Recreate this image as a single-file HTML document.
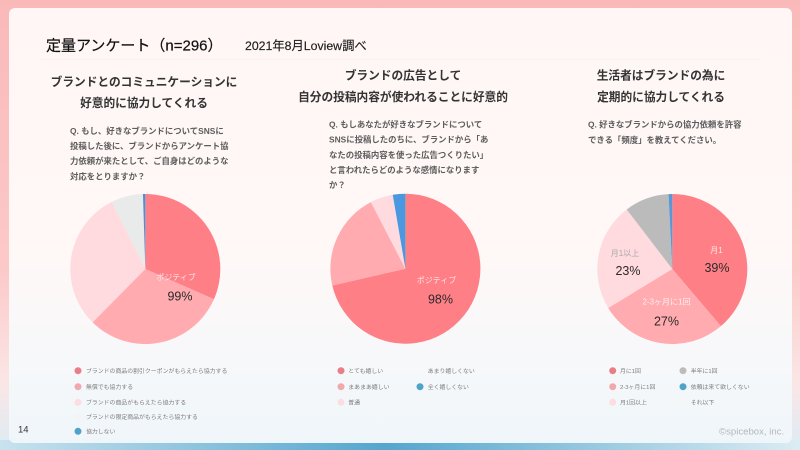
<!DOCTYPE html>
<html lang="ja">
<head>
<meta charset="utf-8">
<title>定量アンケート</title>
<style>
html,body{margin:0;padding:0;width:800px;height:450px;overflow:hidden;background:#fbbcbc;}
svg{display:block;filter:blur(.3px);}
text{font-family:"Liberation Sans","Noto Sans CJK JP",sans-serif;}
.h{font-size:11.7px;font-weight:700;fill:#333;text-anchor:middle;}
.q{font-size:8.4px;font-weight:700;fill:#5c5c5c;}
.lg{font-size:5.9px;fill:#7c7c7c;}
.pl{font-size:8px;fill:#fff;fill-opacity:.8;text-anchor:middle;}
.pv{font-size:12.5px;fill:#2a2a2a;text-anchor:middle;}
</style>
</head>
<body>
<svg id="chart" width="800" height="450" viewBox="0 0 800 450" xmlns="http://www.w3.org/2000/svg">
<defs>
<linearGradient id="bgGrad" x1="0" y1="0" x2="0" y2="1">
<stop offset="0" stop-color="#fab9b9"/><stop offset=".6" stop-color="#fcc9c9"/><stop offset=".85" stop-color="#fbe6e6"/><stop offset="1" stop-color="#dcecf4"/>
</linearGradient>
<linearGradient id="cardGrad" x1="0" y1="0" x2="0" y2="1">
<stop offset="0" stop-color="#fff6f5"/><stop offset=".55" stop-color="#fff8f7"/><stop offset=".8" stop-color="#f7f8fa"/><stop offset="1" stop-color="#eff6fa"/>
</linearGradient>
<linearGradient id="stripGrad" x1="0" y1="0" x2="1" y2="0">
<stop offset="0" stop-color="#c9e2ee"/><stop offset=".25" stop-color="#8cc3dd"/><stop offset=".48" stop-color="#55a5cf"/><stop offset=".7" stop-color="#8cc3dc"/><stop offset="1" stop-color="#dcecf4"/>
</linearGradient>
</defs>
<rect width="800" height="450" fill="url(#bgGrad)"/>
<rect x="0" y="440" width="800" height="10" fill="url(#stripGrad)"/>
<rect x="9" y="8" width="783" height="435" rx="6" fill="url(#cardGrad)"/>
<line x1="40" y1="59.5" x2="760" y2="59.5" stroke="#f9efee" stroke-width="1"/>

<text x="46" y="50.5" font-size="15" fill="#111" stroke="#111" stroke-width=".2">定量アンケート（n=296）</text>
<text x="245" y="50" font-size="12.3" fill="#1c1c1c" stroke="#1c1c1c" stroke-width=".15">2021年8月Loview調べ</text>

<g>
<text class="h" x="144" y="86">ブランドとのコミュニケーションに</text>
<text class="h" x="144" y="107">好意的に協力してくれる</text>
</g>
<g>
<text class="h" x="403" y="79.5">ブランドの広告として</text>
<text class="h" x="403" y="101">自分の投稿内容が使われることに好意的</text>
</g>
<g>
<text class="h" x="661" y="79.5">生活者はブランドの為に</text>
<text class="h" x="661" y="101">定期的に協力してくれる</text>
</g>

<g>
<text class="q" x="70" y="134">Q. もし、好きなブランドについてSNSに</text>
<text class="q" x="70" y="149">投稿した後に、ブランドからアンケート協</text>
<text class="q" x="70" y="164">力依頼が来たとして、ご自身はどのような</text>
<text class="q" x="70" y="179.5">対応をとりますか？</text>
</g>
<g>
<text class="q" x="329" y="127.5">Q. もしあなたが好きなブランドについて</text>
<text class="q" x="329" y="142.5">SNSに投稿したのちに、ブランドから「あ</text>
<text class="q" x="329" y="158">なたの投稿内容を使った広告つくりたい」</text>
<text class="q" x="329" y="173">と言われたらどのような感情になります</text>
<text class="q" x="329" y="188">か？</text>
</g>
<g>
<text class="q" x="588" y="127.5">Q. 好きなブランドからの協力依頼を許容</text>
<text class="q" x="588" y="143">できる「頻度」を教えてください。</text>
</g>

<g id="pie1"></g>
<g id="pie2"></g>
<g id="pie3"></g>

<g>
<text class="pl" x="176" y="280">ポジティブ</text>
<text class="pv" x="180" y="300.5">99%</text>
</g>
<g>
<text class="pl" x="436.5" y="283">ポジティブ</text>
<text class="pv" x="440.5" y="303.5">98%</text>
</g>
<g>
<text class="pl" x="716.5" y="253">月1</text>
<text class="pv" x="717" y="272">39%</text>
<text class="pl" x="666.5" y="304.5">2-3ヶ月に1回</text>
<text class="pv" x="666.5" y="325.5">27%</text>
<text class="pl" x="625" y="256" style="fill:#aaa;fill-opacity:1">月1以上</text>
<text class="pv" x="628" y="275">23%</text>
</g>

<g>
<circle cx="78" cy="370.7" r="3.5" fill="#e87f88"/><text class="lg" x="86" y="372.8">ブランドの商品の割引クーポンがもらえたら協力する</text>
<circle cx="78" cy="386.7" r="3.5" fill="#f0a8ad"/><text class="lg" x="86" y="388.8">無償でも協力する</text>
<circle cx="78" cy="402.3" r="3.5" fill="#fcdde1"/><text class="lg" x="86" y="404.4">ブランドの商品がもらえたら協力する</text>
<circle cx="78" cy="417" r="3.5" fill="#f3f5f5"/><text class="lg" x="86" y="419">ブランドの限定商品がもらえたら協力する</text>
<circle cx="78" cy="431.3" r="3.5" fill="#4fa3c9"/><text class="lg" x="86" y="433.3">協力しない</text>
</g>
<g>
<circle cx="341" cy="370.7" r="3.5" fill="#e87f88"/><text class="lg" x="348.3" y="372.8">とても嬉しい</text>
<circle cx="341" cy="386.7" r="3.5" fill="#f0a8ad"/><text class="lg" x="348.3" y="388.8">まあまあ嬉しい</text>
<circle cx="341" cy="402.3" r="3.5" fill="#fcdde1"/><text class="lg" x="348.3" y="404.4">普通</text>
<text class="lg" x="427.7" y="372.8">あまり嬉しくない</text>
<circle cx="420" cy="386.7" r="3.5" fill="#4fa3c9"/><text class="lg" x="427.7" y="388.8">全く嬉しくない</text>
</g>
<g>
<circle cx="612.7" cy="370.7" r="3.5" fill="#e87f88"/><text class="lg" x="620" y="372.8">月に1回</text>
<circle cx="612.7" cy="386.7" r="3.5" fill="#f0a8ad"/><text class="lg" x="620" y="388.8">2-3ヶ月に1回</text>
<circle cx="612.7" cy="402.3" r="3.5" fill="#fcdde1"/><text class="lg" x="620" y="404.4">月1回以上</text>
<circle cx="683" cy="370.7" r="3.5" fill="#bcbcbc"/><text class="lg" x="690.7" y="372.8">半年に1回</text>
<circle cx="683" cy="386.7" r="3.5" fill="#4fa3c9"/><text class="lg" x="690.7" y="388.8">依頼は来て欲しくない</text>
<circle cx="683" cy="402.3" r="3.5" fill="#f5f6f6"/><text class="lg" x="690.7" y="404.4">それ以下</text>
</g>

<text x="18" y="432.5" font-size="9.5" fill="#333">14</text>
<text x="719" y="434.5" font-size="9.6" fill="#b3b7bb">©spicebox, inc.</text>
</svg>
<script>
const pie1Categories = ["ブランドの商品の割引クーポンがもらえたら協力する", "無償でも協力する", "ブランドの商品がもらえたら協力する", "ブランドの限定商品がもらえたら協力する", "協力しない"];
const pie1Values = [31.6, 30.8, 30.2, 6.9, 0.5];
const pie2Categories = ["とても嬉しい", "まあまあ嬉しい", "普通", "全く嬉しくない"];
const pie2Values = [71.4, 21, 4.9, 2.7];
const pie3Categories = ["月に1回", "2-3ヶ月に1回", "月1回以上", "半年に1回", "依頼は来て欲しくない"];
const pie3Values = [38.8, 27.5, 23.3, 9.6, 0.8];
const pie1Colors = ["#ff7f86", "#ffabaf", "#ffdade", "#e9eaea", "#4a90d9"];
const pie2Colors = ["#ff7f86", "#ffabaf", "#ffdade", "#4a98e0"];
const pie3Colors = ["#ff7f86", "#ffabaf", "#ffdade", "#bbbbbb", "#5a96d8"];

const NS = "http://www.w3.org/2000/svg";

function angleScale(values) {
  const total = values.reduce((a, b) => a + b, 0);
  return v => (v / total) * Math.PI * 2;
}

function polar(cx, cy, r, a) {
  return [cx + r * Math.sin(a), cy - r * Math.cos(a)];
}

function drawPie(groupId, categories, values, colors, cx, cy, r) {
  const group = document.getElementById(groupId);
  const toAngle = angleScale(values);
  let start = 0;
  values.forEach((v, i) => {
    const sweep = toAngle(v);
    const end = start + sweep;
    const p0 = polar(cx, cy, r, start);
    const p1 = polar(cx, cy, r, end);
    const large = sweep > Math.PI ? 1 : 0;
    const path = document.createElementNS(NS, "path");
    path.setAttribute("d", `M${cx} ${cy}L${p0[0]} ${p0[1]}A${r} ${r} 0 ${large} 1 ${p1[0]} ${p1[1]}Z`);
    path.setAttribute("fill", colors[i]);
    
    
    group.appendChild(path);
    start = end;
  });
}

drawPie("pie1", pie1Categories, pie1Values, pie1Colors, 145.3, 269, 75);
drawPie("pie2", pie2Categories, pie2Values, pie2Colors, 405.4, 268.7, 75);
drawPie("pie3", pie3Categories, pie3Values, pie3Colors, 672.3, 269, 75);
</script>
</body>
</html>
